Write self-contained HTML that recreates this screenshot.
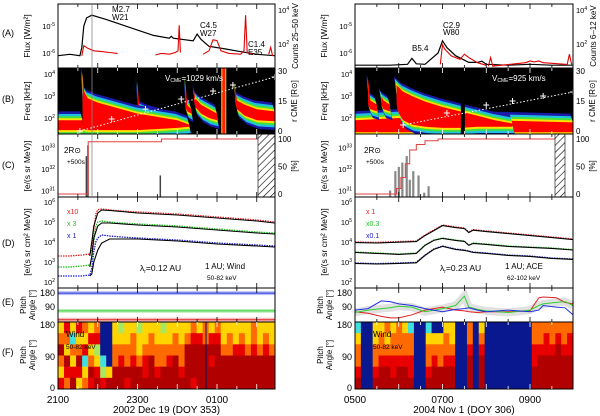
<!DOCTYPE html>
<html><head><meta charset="utf-8"><style>
html,body{margin:0;padding:0;background:#fff}
svg{display:block;font-family:"Liberation Sans",sans-serif}
</style></head><body>
<svg id="fig" width="600" height="416" viewBox="0 0 600 416" xmlns="http://www.w3.org/2000/svg">
<defs>
<pattern id="hatch" patternUnits="userSpaceOnUse" width="5" height="5" patternTransform="rotate(45)"><line x1="0" y1="0" x2="0" y2="5" stroke="#000" stroke-width="1.2"/></pattern>
<clipPath id="clipBL"><rect x="58" y="68" width="217" height="66"/></clipPath>
<clipPath id="clipBR"><rect x="355" y="68" width="218" height="66"/></clipPath>
</defs>
</svg>
<script>
// ---------------- DATA ----------------
const aLeftT=[0,0.3,0.55,0.6,0.65,0.72,0.85,1.2,1.6,2.0,2.4,2.8,2.85,2.9,3.4,3.5,3.6,3.8,4.2,4.6,5,5.45];
const aLeftFlux=[-6.1,-6.05,-6.1,-5.8,-5.0,-4.7,-4.6,-4.75,-4.95,-5.15,-5.35,-5.45,-5.38,-5.45,-5.55,-5.3,-5.5,-5.75,-5.85,-5.95,-6.05,-6.1];
const aLeftCntSeg1T=[0.6,0.65,0.75,0.9,1.1,1.3,1.5];
const aLeftCntSeg1=[1.3,1.9,1.75,1.6,1.55,1.5,1.45];
const aLeftCntSeg2T=[2.45,2.6,2.8,2.95,3.02,3.05,3.08];
const aLeftCntSeg2=[1.35,1.45,1.4,1.5,1.6,3.1,1.5];
const aLeftCntSeg3T=[3.65,3.8,3.9,4.0,4.1,4.3,4.6,4.68,4.72,4.76,4.9];
const aLeftCntSeg3=[1.4,1.6,2.25,2.2,1.6,1.45,1.4,1.6,3.7,1.5,1.4];
const aLeftCntSeg4T=[5.3,5.35,5.4];
const aLeftCntSeg4=[1.4,1.8,1.3];
const aRightT=[0,0.8,1.2,1.3,1.4,1.6,1.9,2.0,2.1,2.3,2.6,2.8,2.9,3.0,3.5,4,4.5,4.98];
const aRightFlux=[-6.45,-6.45,-6.42,-6.2,-6.4,-6.42,-6.0,-5.55,-5.8,-6.1,-6.35,-6.35,-6.3,-6.42,-6.45,-6.42,-6.45,-6.45];
const aRightCntSeg1T=[1.95,2.0,2.05,2.2,2.4,2.5,2.6,2.8,3.0];
const aRightCntSeg1=[0.8,1.95,1.7,1.3,1.1,1.4,1.2,0.9,0.75];
const aRightCntSeg2T=[3.05,3.1,3.15,3.9,4.0,4.1,4.2,4.3,4.85,4.9,4.95];
const aRightCntSeg2=[0.7,1.2,0.7,0.9,1.0,0.95,1.0,0.9,0.8,1.4,0.8];
const bLeftMainT=[0.62,0.66,0.75,1.0,1.5,2.0,2.5,3.0,3.3];
const bLeftMainUp=[4.0,3.2,2.9,2.7,2.45,2.2,2.05,1.9,1.7];
const bLeftMainLo=[1.5,1.48,1.45,1.45,1.45,1.45,1.5,1.55,1.6];
const bLeft2T=[3.42,3.45,3.6,3.8,4.0];
const bLeft2Up=[3.3,2.9,2.6,2.4,2.2];
const bLeft2Lo=[2.8,2.5,2.2,2.0,1.9];
const bLeft3T=[4.45,4.5,4.7,5.0,5.45];
const bLeft3Up=[3.5,2.8,2.6,2.4,2.3];
const bLeft3Lo=[2.8,2.4,2.1,1.9,1.85];
const bRightMainT=[0.95,1.0,1.1,1.3,1.6,2.0,2.4,2.8,3.2,3.6];
const bRightMainUp=[3.5,3.4,3.2,3.0,2.75,2.5,2.3,2.1,1.9,1.75];
const bRightMainLo=[2.6,2.2,1.9,1.7,1.6,1.55,1.55,1.6,1.6,1.6];
const bLeftCmeT=[0.55,1.35,2.2,3.1,3.9,4.4,5.45];
const bLeftCmeR=[0,6,11,16,20,23,27];
const bRightCmeT=[1.1,2.1,3.0,3.6,4.3,4.98];
const bRightCmeR=[3,9,13,15,17.5,19.5];
const cLeftBarT=[0.72,0.76,2.58];
const cLeftBarV=[32.6,33.1,31.7];
const cLeftCumT=[0,0.72,0.76,2.55,2.6,5.0];
const cLeftCum=[0,0,95,95,100,100];
const cRightBarT=[0.8,0.92,1.0,1.08,1.18,1.25,1.33,1.45,1.58,1.68];
const cRightBarV=[31.0,31.9,32.1,32.3,32.6,31.5,31.9,31.7,30.9,31.2];
const cRightCumT=[0,0.85,0.95,1.05,1.15,1.25,1.4,1.6,1.9,4.5];
const cRightCum=[0,0,10,30,55,80,90,97,100,100];
const dLeftT=[0,0.3,0.6,0.8,0.85,0.9,0.95,1.0,1.1,1.3,1.6,2,3,4,5,5.45];
const dLeftRed=[3.3,3.3,3.35,3.4,3.6,4.6,5.4,5.62,5.65,5.6,5.55,5.5,5.4,5.25,5.1,5.0];
const dLeftGreen=[2.75,2.75,2.8,2.85,3.1,4.0,4.8,5.0,5.05,5.0,4.95,4.9,4.8,4.65,4.5,4.45];
const dLeftBlue=[2.3,2.3,2.3,2.35,2.7,3.5,4.0,4.2,4.35,4.3,4.25,4.2,4.1,3.95,3.85,3.8];
const dLeftModelT=[0.8,0.85,0.9,1.0,1.1,1.3,2,3,4,5,5.45];
const dLeftModelRed=[3.3,4.0,4.8,5.45,5.6,5.58,5.45,5.35,5.2,5.05,4.95];
const dLeftModelGreen=[2.75,3.3,4.2,4.8,4.95,4.95,4.85,4.75,4.6,4.45,4.4];
const dLeftModelBlue=[2.3,2.4,3.0,3.6,3.95,4.15,4.15,4.05,3.9,3.8,3.75];
const dRightT=[0,0.5,1.0,1.4,1.6,1.8,2.0,2.3,2.5,2.6,2.7,3,3.5,4,4.5,4.98];
const dRightRed=[4.0,3.98,4.02,4.05,4.35,4.6,4.85,4.75,4.7,4.5,4.62,4.55,4.45,4.35,4.25,4.15];
const dRightGreen=[3.5,3.45,3.4,3.45,3.85,4.1,4.2,4.1,4.05,3.85,3.95,3.9,3.8,3.75,3.7,3.62];
const dRightBlue=[2.95,2.92,2.95,2.98,3.35,3.65,3.8,3.65,3.6,3.55,3.5,3.45,3.35,3.3,3.2,3.15];
const eLeftT=[0,5.45];
const eLeftBlue=[180,180];
const eLeftGreen=[65,65];
const eLeftRed=[8,8];
const eRightT=[0,0.3,0.6,0.8,1.0,1.3,1.6,2.0,2.3,2.5,2.6,2.8,3.0,3.5,4.0,4.2,4.3,4.6,4.8,4.98];
const eRightBlue=[70,80,130,125,110,100,80,60,75,80,85,70,60,70,60,70,100,90,85,40];
const eRightRed=[60,50,30,20,20,40,70,90,70,65,60,55,60,60,65,150,155,150,120,110];
const eRightGreen=[55,70,80,85,95,90,60,80,100,160,90,75,65,55,70,100,110,120,125,100];
const fLeftCols=["YODOYR","ROYDRO","YCOYRD","RYODRY","OYRCYO","YRYODR","ORGYRD","BBBCGR","BBBBYD",
"YYOODD","GYORDD","YYOODR","YOORDD","GYYODD","YYORRD","YOODDD","YYOORD","GYOODD","YYORDD","YOODDD","YYOORD",
"YODDDD","ORDDDR","YRDDDD","OODDDD","YRDRDD","ORDDDD",
"YYODDD","YOODDD","YYRDDD","YORDDD","YYODDD","OORDDD","YYODDD","YORDDD","YYODDD"];
const fRightCols=["CYOORD","BBBBBB","BBBBBB","YYOORD","YOORDD","OYORDD","YOORRD","OOORDD","YOORDD","COORRD",
"BBBBBB","BBBBBB","CYOORD","BYORDD","BYOODD","YOORDD","YYORDD","BBBBBB","BBBBBB","OORDDD","BBBBBB","YORDDD",
"BBBBBB","BBBBBB","BBBBBB","BBBBBB","BBBBBB","BBBBBB","BBBBBB","BBBBBB",
"OORRDD","OORDDD","ORRDDD","OORDDD","ORDDDD","OORDDD","ORRDDD"];
const leftTickLabels=["2100","2300","0100"];
const leftTickHours=[0,2,4];
const rightTickLabels=["0500","0700","0900"];
const rightTickHours=[0,2,4];

// ---------------- HELPERS ----------------
const svg=document.getElementById('fig');
const NS='http://www.w3.org/2000/svg';
function mk(tag,attrs,parent){const e=document.createElementNS(NS,tag);for(const k in attrs)e.setAttribute(k,attrs[k]);(parent||svg).appendChild(e);return e;}
const COL={D:'#b00000',R:'#e80000',O:'#ff6a00',Y:'#ffd400',G:'#a8e860',C:'#40e0e0',B:'#0a1890'};
const sides={L:{x0:58,x1:275,px:39.75},R:{x0:355,x1:573,px:43.75}};
function X(s,t){return sides[s].x0+t*sides[s].px;}
const yA=v=>53-(v+6)*27;
const yAc=c=>44-(c-2)*17;
const yB=lf=>118-(lf-2)*22;
const yBr=r=>131-r*2;
const yC=l=>169-(l-32)*21.5;
const yCp=p=>194-p*0.55;
const yD=l=>242-(l-4)*20;
const yE=a=>321-a*0.155;
function clampA(y){return Math.max(4,Math.min(68,y));}
function pathFrom(s,ts,vs,fy){return ts.map((t,i)=>(i?'L':'M')+X(s,t).toFixed(1)+','+fy(vs[i]).toFixed(1)).join('');}
function txt(x,y,str,opt){const e=mk('text',Object.assign({x:x,y:y,'font-size':8,fill:'#000'},opt||{}));e.textContent=str;return e;}

// ---------------- PANEL A ----------------
['L','R'].forEach(s=>{
 const g=mk('g',{});
 
 
 const ft=s==='L'?aLeftT:aRightT, fv=s==='L'?aLeftFlux:aRightFlux;
 const p=mk('path',{d:pathFrom(s,ft,fv,v=>clampA(yA(v))),fill:'none',stroke:'#000','stroke-width':1.2},g);
 
 
 const segs=s==='L'?[[aLeftCntSeg1T,aLeftCntSeg1],[aLeftCntSeg2T,aLeftCntSeg2],[aLeftCntSeg3T,aLeftCntSeg3],[aLeftCntSeg4T,aLeftCntSeg4]]:[[aRightCntSeg1T,aRightCntSeg1],[aRightCntSeg2T,aRightCntSeg2]];
 segs.forEach(sg=>{
  const q=mk('path',{d:pathFrom(s,sg[0],sg[1],c=>clampA(yAc(c))),fill:'none',stroke:'#e00000','stroke-width':1.1},g);
  
  
 });
});

// ---------------- PANEL B ----------------
function burst(s,g,ts,up,lo){
 const lev=[['#1a1aa8',0.4],['#20c0e0',0.28],['#40e040',0.18],['#ffe000',0.09],['#ff0000',0]];
 lev.forEach(L=>{
  const pts=ts.map((t,i)=>X(s,t-L[1]*0.15).toFixed(1)+','+yB(up[i]+L[1]).toFixed(1));
  for(let i=ts.length-1;i>=0;i--)pts.push(X(s,ts[i]+L[1]*0.15).toFixed(1)+','+yB(lo[i]-L[1]).toFixed(1));
  const e=mk('polygon',{points:pts.join(' '),fill:L[0]},g);
  
  
 });
}
['L','R'].forEach(s=>{
 const S=sides[s];
 const g=mk('g',{'clip-path':s==='L'?'url(#clipBL)':'url(#clipBR)'});
 
 
 const bg=mk('rect',{x:S.x0,y:68,width:S.x1-S.x0,height:66,fill:'#000'},g);
 
 
 const tEnd=(S.x1-S.x0)/S.px;
 if(s==='L'){
  burst(s,g,[0,0.62],[1.9,1.9],[1.45,1.45]);
  burst(s,g,[2.0,2.05,2.3,2.6],[3.6,2.4,2.2,2.05],[2.35,2.2,2.05,1.95]);
  burst(s,g,[3.2,3.25,3.35],[3.8,2.6,2.4],[2.5,2.3,2.2]);
  burst(s,g,bLeftMainT,bLeftMainUp,bLeftMainLo);
  burst(s,g,bLeft2T,bLeft2Up,bLeft2Lo);
  burst(s,g,bLeft3T,bLeft3Up,bLeft3Lo);
  const vb=mk('rect',{x:X(s,4.12),y:68,width:4,height:66,fill:'#ff2000',stroke:'#ffd000','stroke-width':1},g);
  
  
 }else{
  burst(s,g,[0,1.0,2.0,3.0,4.0,tEnd],[1.9,2.0,1.95,1.9,1.85,1.8],[1.35,1.35,1.35,1.35,1.35,1.35]);
  burst(s,g,[0.3,0.35,0.5],[3.8,2.8,2.6],[2.6,2.4,2.3]);
  burst(s,g,[0.6,0.65,0.8],[3.0,2.8,2.6],[2.6,2.4,2.3]);
  burst(s,g,bRightMainT,bRightMainUp,bRightMainLo);
  const vb=mk('rect',{x:X(s,2.42),y:101,width:4,height:33,fill:'#000'},g);
  
  
 }
 const ct=s==='L'?bLeftCmeT:bRightCmeT, cr=s==='L'?bLeftCmeR:bRightCmeR;
 const dl=mk('path',{d:pathFrom(s,[ct[0],ct[ct.length-1]],[cr[0],cr[cr.length-1]],yBr),stroke:'#fff','stroke-width':1,'stroke-dasharray':'1.5,2',fill:'none'},g);
 
 
 ct.forEach((t,i)=>{
  const x=X(s,t),y=yBr(cr[i]);
  const m=mk('path',{d:`M${x-3},${y}h6M${x},${y-3}v6`,stroke:'#fff','stroke-width':1},g);
  
  
 });
});
const vl=txt(165,81,'V',{fill:'#fff','font-size':8});
vl.innerHTML='V<tspan font-size="5" dy="1">CME</tspan><tspan dy="-1">=1029 km/s</tspan>';


const vr=txt(492,81,'V',{fill:'#fff','font-size':8});
vr.innerHTML='V<tspan font-size="5" dy="1">CME</tspan><tspan dy="-1">=925 km/s</tspan>';



// ---------------- PANEL C ----------------
['L','R'].forEach(s=>{
 const g=mk('g',{});
 
 
 const bt=s==='L'?cLeftBarT:cRightBarT, bv=s==='L'?cLeftBarV:cRightBarV;
 bt.forEach((t,i)=>{
  const y=yC(bv[i]);
  const b=mk('rect',{x:X(s,t)-1,y:y,width:s==='L'?1.5:2.2,height:197-y,fill:s==='L'?'#444':'#888'},g);
  
  
 });
 const ct=s==='L'?cLeftCumT:cRightCumT, cv=s==='L'?cLeftCum:cRightCum;
 let d='';ct.forEach((t,i)=>{d+=(i?'H'+X(s,t).toFixed(1)+'V':'M'+X(s,t).toFixed(1)+',')+yCp(cv[i]).toFixed(1);});
 d+='H'+(s==='L'?258:555);
 const c=mk('path',{d:d,fill:'none',stroke:'#e04040','stroke-width':1},g);
 
 
 const h=mk('rect',s==='L'?{x:258,y:134,width:17,height:63,fill:'url(#hatch)',stroke:'#000','stroke-width':0.6}:{x:555,y:134,width:10,height:63,fill:'url(#hatch)',stroke:'#000','stroke-width':0.6},g);
 
 
});

// ---------------- PANEL D ----------------
[['L',dLeftT,[dLeftRed,dLeftGreen,dLeftBlue],dLeftModelT,[dLeftModelRed,dLeftModelGreen,dLeftModelBlue]],
 ['R',dRightT,[dRightRed,dRightGreen,dRightBlue],dRightT,[dRightRed.map(v=>v-0.03),dRightGreen.map(v=>v-0.02),dRightBlue.map(v=>v-0.02)]]].forEach(a=>{
 const s=a[0];
 const g=mk('g',{});
 
 
 const cols=['#e02020','#20c020','#2020d0'];
 a[2].forEach((vs,k)=>{
  const p=mk('path',{d:pathFrom(s,a[1],vs,yD),fill:'none',stroke:cols[k],'stroke-width':1.3,'stroke-dasharray':'1.5,1'},g);
  
  
 });
 a[4].forEach((vs,k)=>{
  const p=mk('path',{d:pathFrom(s,a[3],vs,yD),fill:'none',stroke:'#000','stroke-width':1.1},g);
  
  
 });
});

// ---------------- PANEL E ----------------
[['L',eLeftT,[eLeftRed,eLeftGreen,eLeftBlue]],['R',eRightT,[eRightRed,eRightGreen,eRightBlue]]].forEach(a=>{
 const s=a[0];
 const g=mk('g',{});
 
 
 if(s==='R'){
  const band=mk('path',{d:pathFrom(s,a[1],a[2][1],yE),fill:'none',stroke:'#ccc','stroke-width':8,opacity:0.6},g);
  
  
 }
 const cols=['#e02020','#30d030','#2030e0'];
 a[2].forEach((vs,k)=>{
  if(s==='L'){const b=mk('path',{d:pathFrom(s,a[1],vs,yE),fill:'none',stroke:cols[k],'stroke-width':4,opacity:0.3},g);
   
   }
  const p=mk('path',{d:pathFrom(s,a[1],vs,yE),fill:'none',stroke:cols[k],'stroke-width':1},g);
  
  
 });
});

// ---------------- PANEL F ----------------
['L','R'].forEach(s=>{
 const S=sides[s];const cols=s==='L'?fLeftCols:fRightCols;
 const g=mk('g',{});
 
 
 const cw=(S.x1-S.x0)/cols.length, rh=67/6;
 cols.forEach((c,i)=>{
  for(let r=0;r<6;r++){
   const cell=mk('rect',{x:(S.x0+i*cw).toFixed(2),y:(322+r*rh).toFixed(2),width:(cw+0.4).toFixed(2),height:(rh+0.4).toFixed(2),fill:COL[c[r]]},g);
   
   
  }
 });
});
const fl=mk('line',{x1:206,y1:322,x2:206,y2:389,stroke:'#001060','stroke-width':1});



// ---------------- FRAMES, AXES, LABELS ----------------
const rows=[[4,68],[68,134],[134,197],[197,288],[288,322],[322,389]];
['L','R'].forEach(s=>{
 const S=sides[s];
 rows.forEach((r,i)=>{
  const f=mk('rect',{x:S.x0,y:r[0],width:S.x1-S.x0,height:r[1]-r[0],fill:'none',stroke:'#000','stroke-width':1});
  
  
 });
 const tEnd=(S.x1-S.x0)/S.px;
 for(let t=0.5;t<tEnd;t+=0.5){
  const major=Math.abs(t-Math.round(t))<0.01;
  rows.forEach(r=>{
   const tk=mk('path',{d:`M${X(s,t)},${r[1]}v-${major?5:3}M${X(s,t)},${r[0]}v${major?5:3}`,stroke:r===rows[1]||r===rows[5]?'#fff':'#000','stroke-width':0.8});
   
   
  });
 }
 const labs=s==='L'?leftTickLabels:rightTickLabels, hrs=s==='L'?leftTickHours:rightTickHours;
 labs.forEach((l,i)=>{const e=txt(X(s,hrs[i]),403,l,{'font-size':10,'text-anchor':'middle'});
  
  });
 const tt=txt((S.x0+S.x1)/2,413,s==='L'?'2002 Dec 19 (DOY 353)':'2004 Nov 1 (DOY 306)',{'font-size':10,'text-anchor':'middle'});
 
 
 const L=S.x0-3, R=S.x1+3;
 const yl=[[yA(-5),'10','-5'],[yA(-6),'10','-6'],[yB(4),'10','4'],[yB(3),'10','3'],[yB(2),'10','2'],[yC(33),'10','33'],[yC(32),'10','32'],[yC(31),'10','31'],
   [yD(6),'10','6'],[yD(5),'10','5'],[yD(4),'10','4'],[yD(3),'10','3'],[yD(2),'10','2']];
 yl.forEach(v=>{const e=txt(L,v[0]+3,'',{'font-size':7.5,'text-anchor':'end'});
  e.innerHTML=v[1]+'<tspan font-size="5" dy="-3">'+v[2]+'</tspan>';
  
  });
 [[yE(180),'180'],[yE(90),'90'],[325,'180'],[357,'90'],[388,'0']].forEach(v=>{const e=txt(L,v[0]+3,v[1],{'font-size':9,'text-anchor':'end'});
  
  });
 [[yAc(4),'10','4'],[yAc(2),'10','2']].forEach(v=>{
  const e=txt(R,v[0]+3,'',{'font-size':7.5});
  e.innerHTML=v[1]+'<tspan font-size="5" dy="-3">'+v[2]+'</tspan>';
  
  });
 [[yBr(30),'30'],[yBr(15),'15'],[yBr(0),'0'],[yCp(100),'100'],[yCp(50),'50'],[yCp(0),'0']].forEach(v=>{
  const e=txt(R,v[0]+3,v[1],{'font-size':8});
  
  });
 const ax=S.x0-28;
 [[36,'Flux [W/m²]'],[101,'Freq [kHz]'],[166,'[e/(s sr MeV)]'],[242,'[e/(s sr cm² MeV)]']].forEach(v=>{
  const e=txt(ax,v[0],v[1],{'font-size':8.5,'text-anchor':'middle',transform:`rotate(-90 ${ax} ${v[0]})`});
  
  });
 [[305],[355]].forEach(v=>{
  const e1=txt(ax-4,v[0],'Pitch',{'font-size':8,'text-anchor':'middle',transform:`rotate(-90 ${ax-4} ${v[0]})`});
  
  
  const e2=txt(ax+5,v[0],'Angle [°]',{'font-size':8,'text-anchor':'middle',transform:`rotate(-90 ${ax+5} ${v[0]})`});
  
  });
 const rx=S.x1+23;
 const rt=txt(rx,36,s==='L'?'Counts 25–50 keV':'Counts 6–12 keV',{'font-size':8,'text-anchor':'middle',transform:`rotate(-90 ${rx} 36)`});
 
 
 const rb=txt(rx-1,101,'r CME [R⊙]',{'font-size':8,'text-anchor':'middle',transform:`rotate(-90 ${rx-1} 101)`});
 
 
 const rc=txt(rx-1,166,'[%]',{'font-size':8,'text-anchor':'middle',transform:`rotate(-90 ${rx-1} 166)`});
 
 
});
[['(A)',36],['(B)',102],['(C)',168],['(D)',246],['(E)',305],['(F)',355]].forEach(v=>{
 const e=txt(2,v[1],v[0],{'font-size':9});
 
 
});
const ann=[[112,12,'M2.7'],[112,20,'W21'],[200,28,'C4.5'],[200,36,'W27'],[248,47,'C1.4'],[248,55,'E35'],
 [412,51,'B5.4'],[443,28,'C2.9'],[443,35,'W80'],
 [64,153,'2R⊙'],[67,164,'+500s'],[364,153,'2R⊙'],[366,164,'+500s'],
 [205,269,'1 AU; Wind'],[207,280,'50-82 keV'],[505,269,'1 AU; ACE'],[507,280,'62-102 keV'],
 [66,337,'Wind'],[66,349,'50-82 keV'],[373,337,'Wind'],[373,349,'50-82 keV']];
ann.forEach(a=>{const e=txt(a[0],a[1],a[2],{'font-size':a[2].indexOf('keV')>0||a[2]==='+500s'?6.5:8});
 
 });
[[140,271,'0.12 AU'],[440,271,'0.23 AU']].forEach(a=>{const e=txt(a[0],a[1],'',{'font-size':8.5});
 e.innerHTML='λ<tspan font-size="5" dy="2">r</tspan><tspan dy="-2">='+a[2]+'</tspan>';
 
 });
[[67,214,'x10','#e02020'],[67,226,'x 3','#20c020'],[67,238,'x 1','#2020d0'],[366,214,'x 1','#e02020'],[366,226,'x0.3','#20c020'],[366,238,'x0.1','#2020d0']].forEach(a=>{
 const e=txt(a[0],a[1],a[2],{'font-size':7,fill:a[3]});
 
 });
const rl=mk('line',{x1:92,y1:4,x2:92,y2:197,stroke:'#888','stroke-width':0.8});


</script>
</body></html>
